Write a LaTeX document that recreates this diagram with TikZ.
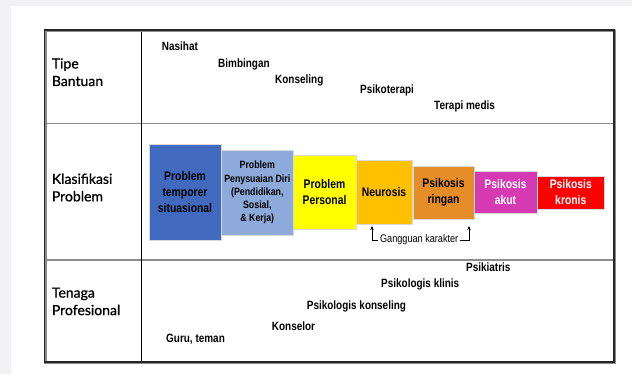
\documentclass[tikz,border=0pt]{standalone}
\usepackage{fontspec}
\setmainfont{Liberation Sans}
\newfontfamily\narrowf[FakeStretch=0.83]{Liberation Sans}
\newfontfamily\labf[FakeBold=0.8]{Lato}
\usetikzlibrary{arrows.meta}
\definecolor{bgGrey}{HTML}{F2F2F4}
\definecolor{cBlue}{HTML}{4169BE}
\definecolor{cLBlue}{HTML}{8EAADB}
\definecolor{cYel}{HTML}{FFFF00}
\definecolor{cGold}{HTML}{FFC000}
\definecolor{cOra}{HTML}{E58E28}
\definecolor{cMag}{HTML}{D63AB2}
\definecolor{cRed}{HTML}{FF0000}
\definecolor{rowLine}{HTML}{8C8C8C}
\tikzset{
  lbl/.style={anchor=base west, inner sep=0pt, font=\narrowf\bfseries\fontsize{12}{14}\selectfont},
  side/.style={anchor=west, inner sep=0pt, align=left, font=\labf\fontsize{14}{17.5}\selectfont},
  pbox/.style={draw=white!85!black, line width=0.4pt, inner sep=0pt, outer sep=0pt, align=center,
     font=\narrowf\bfseries\fontsize{12.5}{16}\selectfont},
  arw/.style={-{Stealth[length=4pt,width=3.5pt]}, line width=0.7pt},
}
\begin{document}
\begin{tikzpicture}[x=1pt,y=-1pt]
\useasboundingbox (0,0) rectangle (632,374);
\fill[bgGrey] (0,0) rectangle (632,374);
\fill[white] (11,6) rectangle (632,374);
% table
\draw[rowLine, line width=1.2pt] (44.7,123.3) -- (614,123.3);
\draw[rowLine, line width=1.2pt] (44.7,260) -- (614,260);
\draw[black, line width=0.7pt] (141.7,30) -- (141.7,362);
\draw[black!45, line width=2.4pt] (45.5,30.8) rectangle (614.8,362.8);
\draw[black!85, line width=1.5pt] (44.7,30) rectangle (614,362);
% side labels
\node[side] (tipe) at (51.7,72.2) {Tipe\\Bantuan};
\node[side] (klas) at (51.7,187.5) {Klasifikasi\\Problem};
\node[side] (tena) at (51.7,301.4) {Tenaga\\Profesional};
% top row
\node[lbl] (nas) at (161.7,50.3) {Nasihat};
\node[lbl] (bim) at (218,67.3) {Bimbingan};
\node[lbl] (kon) at (275,84) {Konseling};
\node[lbl] (psi) at (360,93.3) {Psikoterapi};
\node[lbl] (ter) at (434,110) {Terapi medis};
% bottom row
\node[lbl] (pkt) at (466,271.6) {Psikiatris};
\node[lbl] (pkl) at (381,287.6) {Psikologis klinis};
\node[lbl] (pks) at (306.7,309.3) {Psikologis konseling};
\node[lbl] (ksl) at (271.7,330.3) {Konselor};
\node[lbl] (gur) at (166,342.3) {Guru, teman};
% problem boxes
\node[pbox, fill=cBlue, minimum width=72pt, minimum height=96pt] (b1) at (185,192) {Problem\\temporer\\situasional};
\node[pbox, fill=cLBlue, minimum width=71.3pt, minimum height=85pt,
      font=\narrowf\bfseries\fontsize{10.6}{13.2}\selectfont] (b2) at (257.3,192.5) {Problem\\Penysuaian Diri\\(Pendidikan,\\Sosial,\\\& Kerja)};
\node[pbox, fill=cYel, minimum width=63pt, minimum height=74pt] (b3) at (324.5,192) {Problem\\Personal};
\node[pbox, fill=cGold, minimum width=56pt, minimum height=63.3pt] (b4) at (384,192.3) {Neurosis};
\node[pbox, fill=cOra, minimum width=61pt, minimum height=53pt] (b5) at (443.5,192.5) {Psikosis\\ringan};
\node[pbox, fill=cMag, text=white, minimum width=63pt, minimum height=42pt] (b6) at (505.5,192) {Psikosis\\akut};
\node[pbox, fill=cRed, text=white, minimum width=66.3pt, minimum height=33pt] (b7) at (570.8,192.5) {Psikosis\\kronis};
% gangguan karakter
\node[inner sep=2pt, font=\narrowf\fontsize{11}{13}\selectfont] (gk) at (419.2,240) {Gangguan karakter};
\coordinate (t1) at (372,226);
\coordinate (t2) at (469,226);
\draw[arw] (gk.west) -| (t1);
\draw[arw] (gk.east) -| (t2);
\end{tikzpicture}
\end{document}
